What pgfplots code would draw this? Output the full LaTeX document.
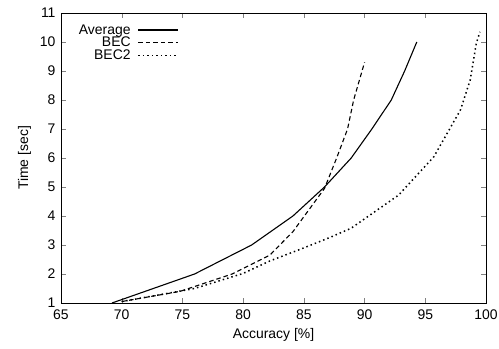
\documentclass[border=0pt]{standalone}
\usepackage{fontspec}
\setmainfont{Liberation Sans}
\usepackage{pgfplots}
\pgfplotsset{compat=1.18}
\usetikzlibrary{calc}
\begin{document}
\begin{tikzpicture}
\begin{axis}[
  scale only axis,
  width=425bp, height=290bp,
  xmin=65, xmax=100, ymin=1, ymax=11,
  xtick={65,70,...,100}, ytick={1,2,...,11},
  tick align=inside, major tick length=5bp,
  /pgf/number format/assume math mode=true,
  ticklabel style={font=\fontsize{14}{16}\selectfont},
  xticklabel style={yshift=-3bp},
  yticklabel style={xshift=-2bp},
  label style={font=\fontsize{14}{16}\selectfont},
  xlabel={Accuracy [\%]}, ylabel={Time [sec]},
  xlabel style={yshift=-2bp},
  ylabel style={yshift=2bp},
  axis line style={line width=0.9bp},
  legend style={at={(0.03,0.975)}, anchor=north west, draw=none, fill=none,
    font=\fontsize{14}{16}\selectfont, row sep=-2.5bp},
  legend cell align=right,
  legend plot pos=right,
  legend image code/.code={\path (0bp,0bp); \draw[#1] (5bp,0bp) -- (45bp,0bp);},
]
\addplot[black, line width=1.1bp] coordinates {
(69.2,1) (76,2) (80.7,3) (84.1,4) (86.7,5) (88.9,6) (90.6,7) (92.2,8) (93.3,9) (94.3,10)};
\addlegendentry{Average}
\addplot[black, line width=1.1bp, dash pattern=on 4.5bp off 3bp] coordinates {
(70,1.05) (74.8,1.4) (79.1,2.0) (82.2,2.65) (84.1,3.46) (86.7,4.95) (87.7,6) (88.6,7) (89.1,8) (90,9.3)};
\addlegendentry{BEC}
\addplot[black, line width=1.5bp, dash pattern=on 1.5bp off 3bp] coordinates {
(70,1.05) (76,1.5) (80,2.02) (82.2,2.45) (85,2.9) (87.2,3.27) (88.9,3.58) (92.8,4.72) (95.7,6.04) (97.9,7.66) (98.7,8.69) (99.2,9.95) (99.5,10.35)};
\addlegendentry{BEC2}
\end{axis}
\pgfresetboundingbox
\path ($(current axis.south west)+(-61bp,-46bp)$) rectangle ($(current axis.north east)+(13bp,13bp)$);
\end{tikzpicture}
\end{document}
